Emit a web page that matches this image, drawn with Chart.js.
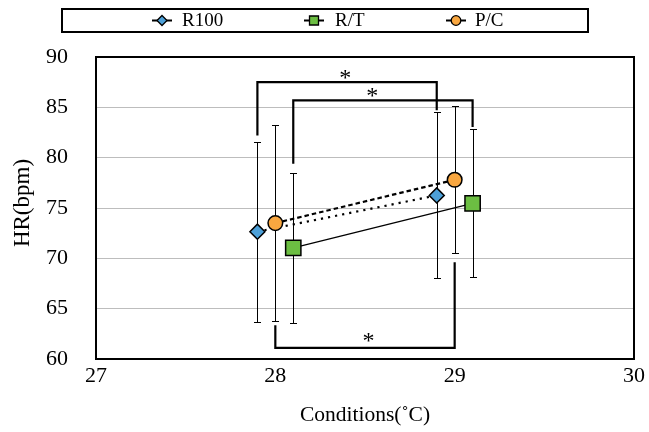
<!DOCTYPE html>
<html><head><meta charset="utf-8">
<script src="https://cdn.jsdelivr.net/npm/chart.js@4.4.1/dist/chart.umd.min.js"></script>
<style>html,body{margin:0;padding:0;background:#fff}#wrap{width:649px;height:432px;position:relative}</style>
</head><body><div id="wrap"><canvas id="c" width="649" height="432"></canvas></div>
<script>
// ---- data ----
const seriesNames = ['R100', 'R/T', 'P/C'];
const r100X = [27.9, 28.9];
const r100Mean = [72.65, 76.25];
const r100SD = [8.95, 8.25];
const rtX = [28.1, 29.1];
const rtMean = [71.05, 75.45];
const rtSD = [7.45, 7.35];
const pcX = [28.0, 29.0];
const pcMean = [73.5, 77.8];
const pcSD = [9.7, 7.3];
const yTickValues = [60, 65, 70, 75, 80, 85, 90];
const xTickValues = [27, 28, 29, 30];
const xTitle = 'Conditions(˚C)';
const yTitle = 'HR(bpm)';
// significance brackets
const bracket1X = [27.9, 27.9, 28.9, 28.9];
const bracket1Y = [82.2, 87.5, 87.5, 84.7];
const bracket2X = [28.1, 28.1, 29.1, 29.1];
const bracket2Y = [79.4, 85.7, 85.7, 83.05];
const bracket3X = [28.0, 28.0, 29.0, 29.0];
const bracket3Y = [63.35, 61.1, 61.1, 69.6];
const starX = [28.39, 28.54, 28.52];
const starY = [88.5, 86.7, 62.4];

const FONT = 'Liberation Serif';
const colors = { r100: '#4DA0D8', rt: '#6CBE42', pc: '#F9A740' };

const pts = (xs, ys) => xs.map((x, i) => ({ x: x, y: ys[i] }));

const seriesDefs = [
  { label: seriesNames[0], xs: r100X, m: r100Mean, sd: r100SD, color: colors.r100, style: 'rectRot', radius: 7.5, dash: [2.2, 5], width: 2.2 },
  { label: seriesNames[1], xs: rtX, m: rtMean, sd: rtSD, color: colors.rt, style: 'rect', radius: 10.8, dash: [], width: 1.3 },
  { label: seriesNames[2], xs: pcX, m: pcMean, sd: pcSD, color: colors.pc, style: 'circle', radius: 7.3, dash: [4.5, 3], width: 2.2 }
];

const datasets = [];
[[bracket1X, bracket1Y], [bracket2X, bracket2Y], [bracket3X, bracket3Y]].forEach(b => {
  datasets.push({
    label: 'bracket', data: pts(b[0], b[1]), showLine: true, borderColor: '#000',
    borderWidth: 2.2, pointRadius: 0, fill: false, order: 5, isBracket: true
  });
});
seriesDefs.forEach((s, i) => {
  datasets.push({
    label: s.label, data: pts(s.xs, s.m), showLine: true, borderColor: '#000',
    borderWidth: s.width, borderDash: s.dash, pointStyle: s.style, pointRadius: s.radius,
    pointBackgroundColor: s.color, pointBorderColor: '#000', pointBorderWidth: 1.5,
    sd: s.sd, order: 3 - i
  });
});

const errorBars = {
  id: 'errorBars',
  beforeDatasetsDraw(chart) {
    const ctx = chart.ctx, xs = chart.scales.x, ys = chart.scales.y;
    ctx.save();
    ctx.strokeStyle = '#000';
    ctx.lineWidth = 1;
    chart.data.datasets.forEach(ds => {
      if (!ds.sd) return;
      ds.data.forEach((p, i) => {
        const px = Math.round(xs.getPixelForValue(p.x)) + 0.5;
        const top = Math.round(ys.getPixelForValue(p.y + ds.sd[i])) + 0.5;
        const bot = Math.round(ys.getPixelForValue(p.y - ds.sd[i])) + 0.5;
        ctx.beginPath();
        ctx.moveTo(px, top); ctx.lineTo(px, bot);
        ctx.moveTo(px - 3.5, top); ctx.lineTo(px + 3.5, top);
        ctx.moveTo(px - 3.5, bot); ctx.lineTo(px + 3.5, bot);
        ctx.stroke();
      });
    });
    ctx.restore();
  }
};

const decor = {
  id: 'decor',
  afterDraw(chart) {
    const ctx = chart.ctx, a = chart.chartArea, xs = chart.scales.x, ys = chart.scales.y;
    ctx.save();
    // plot border
    ctx.strokeStyle = '#000';
    ctx.lineWidth = 2;
    ctx.strokeRect(a.left, a.top, a.right - a.left, a.bottom - a.top);
    // stars
    ctx.fillStyle = '#000';
    ctx.font = '24px "' + FONT + '"';
    ctx.textAlign = 'center';
    ctx.textBaseline = 'alphabetic';
    starX.forEach((sx, i) => {
      const px = xs.getPixelForValue(sx);
      const py = ys.getPixelForValue(starY[i]);
      ctx.fillText('*', px, py + 0.54 * 24);
    });
    // y title
    ctx.save();
    ctx.translate(22.5, 203);
    ctx.rotate(-Math.PI / 2);
    ctx.font = '23px "' + FONT + '"';
    ctx.textAlign = 'center';
    ctx.textBaseline = 'middle';
    ctx.fillText(yTitle, 0, 0);
    ctx.restore();
    // legend
    const lx = 62, ly = 9, lw = 526, lh = 23;
    ctx.lineWidth = 2;
    ctx.strokeStyle = '#000';
    ctx.strokeRect(lx, ly, lw, lh);
    const cy = 20.5;
    const symX = [162, 314, 456];
    const txtX = [182, 335, 475];
    seriesDefs.forEach((s, i) => {
      ctx.beginPath();
      ctx.lineWidth = 2;
      ctx.setLineDash([]);
      ctx.moveTo(symX[i] - 10, cy); ctx.lineTo(symX[i] + 10, cy);
      ctx.stroke();
      ctx.fillStyle = s.color;
      ctx.lineWidth = 1.3;
      ctx.beginPath();
      if (s.style === 'rectRot') {
        ctx.moveTo(symX[i] - 5, cy); ctx.lineTo(symX[i], cy - 5);
        ctx.lineTo(symX[i] + 5, cy); ctx.lineTo(symX[i], cy + 5); ctx.closePath();
      } else if (s.style === 'rect') {
        ctx.rect(symX[i] - 4.5, cy - 4.5, 9, 9);
      } else {
        ctx.arc(symX[i], cy, 4.8, 0, Math.PI * 2);
      }
      ctx.fill(); ctx.stroke();
      ctx.fillStyle = '#000';
      ctx.font = '19px "' + FONT + '"';
      ctx.textAlign = 'left';
      ctx.textBaseline = 'middle';
      ctx.fillText(s.label, txtX[i], cy + 0.5);
    });
    ctx.restore();
  }
};

new Chart(document.getElementById('c'), {
  type: 'scatter',
  data: { datasets: datasets },
  options: {
    responsive: false, animation: false, devicePixelRatio: 1,
    layout: { padding: { top: 57, right: 11, left: 0, bottom: 0 } },
    plugins: { legend: { display: false }, tooltip: { enabled: false } },
    scales: {
      x: {
        type: 'linear', min: 27, max: 30,
        afterFit(s) { s.height = 73; },
        afterBuildTicks(s) { s.ticks = xTickValues.map(v => ({ value: v })); },
        grid: { display: false, drawTicks: false },
        border: { display: false },
        ticks: { color: '#000', padding: 4, font: { family: FONT, size: 22 } },
        title: { display: true, text: xTitle, color: '#000', font: { family: FONT, size: 21.5 }, padding: { top: 0, bottom: 4 } }
      },
      y: {
        type: 'linear', min: 60, max: 90,
        afterFit(s) { s.width = 96; },
        afterBuildTicks(s) { s.ticks = yTickValues.map(v => ({ value: v })); },
        grid: { color: '#BDBDBD', lineWidth: 1, drawTicks: false },
        border: { display: false },
        ticks: { color: '#000', padding: 28, font: { family: FONT, size: 22 } }
      }
    }
  },
  plugins: [errorBars, decor]
});
</script></body></html>
